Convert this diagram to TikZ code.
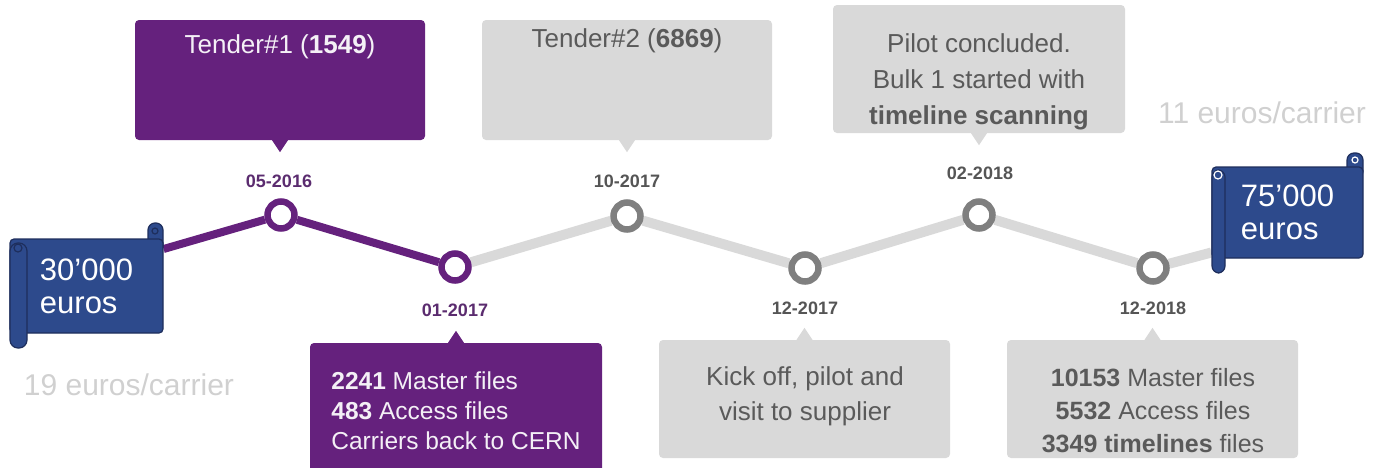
\documentclass[tikz,border=0pt]{standalone}
\usepackage{fontspec}
\setmainfont{Liberation Sans}
\usepackage{xcolor}
\usepackage{tikz}
\usetikzlibrary{positioning, backgrounds}

\definecolor{tlpurple}{HTML}{65217D}
\definecolor{datepurple}{HTML}{5B2C6F}
\definecolor{scrollblue}{HTML}{2D4A8C}
\definecolor{scrolledge}{HTML}{1E2E5C}
\definecolor{boxgray}{HTML}{D9D9D9}
\definecolor{boxtext}{HTML}{5A5A5A}
\definecolor{linegray}{HTML}{D9D9D9}
\definecolor{ringgray}{HTML}{7F7F7F}
\definecolor{dategray}{HTML}{555555}
\definecolor{pricegray}{HTML}{D0D0D0}
\definecolor{boxwhite}{HTML}{F4F0F6}

\begin{document}
\begin{tikzpicture}[x=1pt, y=-1pt,
  scrollbox/.style={draw=scrolledge, fill=scrollblue, line width=1.2pt, rounded corners=4pt,
    inner sep=0pt, text=white, align=left, font=\fontsize{31}{33}\selectfont},
  scrollroll/.style={draw=scrolledge, fill=scrollblue, line width=1.2pt},
  ring/.style={circle, line width=6.5pt, fill=white, minimum size=27pt, inner sep=0pt},
  datelabel/.style={font=\fontsize{18}{20}\selectfont\bfseries},
  callout/.style={rounded corners=4pt, inner sep=0pt},
  callouttext/.style={align=center, inner sep=0pt, font=\fontsize{26}{36}\selectfont},
  price/.style={text=pricegray, font=\fontsize{30}{32}\selectfont}
]
  \useasboundingbox (0,0) rectangle (1378,467);

  % left scroll
  \draw[scrollroll, rounded corners=7pt] (148,252) rectangle (163,223);
  \draw[scrolledge, line width=1.2pt] (155,231) circle (3);
  \node[scrollbox, minimum width=153pt, minimum height=94pt] (costold) at (86.5,286) {30'000\\euros};
  \draw[scrollroll, rounded corners=8pt] (10,243) rectangle (27,348);
  \draw[scrolledge, line width=1.2pt] (18,248) circle (4);
  \node[price] (priceold) at (129,385) {19 euros/carrier};

  % right scroll
  \draw[scrollroll, rounded corners=7pt] (1347,178) rectangle (1363,153);
  \draw[white, line width=1.2pt] (1355,160) circle (3);
  \node[scrollbox, minimum width=151pt, minimum height=91pt] (costnew) at (1287.5,212.5) {75'000\\euros};
  \draw[scrollroll, rounded corners=7pt] (1212,170) rectangle (1225,273);
  \draw[white, line width=1.2pt] (1218,175) circle (4);
  \node[price] (pricenew) at (1262,113) {11 euros/carrier};

  % timeline points
  \node[ring, draw=tlpurple] (may16) at (281,215) {};
  \node[ring, draw=tlpurple] (jan17) at (455,267) {};
  \node[ring, draw=ringgray] (oct17) at (627,216) {};
  \node[ring, draw=ringgray] (dec17) at (805,268) {};
  \node[ring, draw=ringgray] (feb18) at (979,215) {};
  \node[ring, draw=ringgray] (dec18) at (1153,268) {};

  \begin{scope}[on background layer]
    \draw[line width=8pt, tlpurple] ([yshift=37pt]costold.east) -- (may16) -- (jan17);
    \draw[line width=10pt, linegray] (jan17) -- (oct17) -- (dec17) -- (feb18) -- (dec18)
      -- ([yshift=-40pt]costnew.west);
  \end{scope}

  % dates
  \node[datelabel, text=datepurple] (may16date) at (279,181) {05-2016};
  \node[datelabel, text=datepurple] (jan17date) at (455,310) {01-2017};
  \node[datelabel, text=dategray] (oct17date) at (627,181) {10-2017};
  \node[datelabel, text=dategray] (dec17date) at (805,308) {12-2017};
  \node[datelabel, text=dategray] (feb18date) at (980,173) {02-2018};
  \node[datelabel, text=dategray] (dec18date) at (1153,308) {12-2018};

  % callouts above
  \node[callout, fill=tlpurple, minimum width=290pt, minimum height=120pt] (tender1) at (280,80) {};
  \fill[tlpurple] ([xshift=-8pt]tender1.south) -- ([yshift=-12pt]tender1.south)
    -- ([xshift=8pt]tender1.south) -- cycle;
  \node[callouttext, text=boxwhite] (tender1txt) at (280,47) {Tender\#1 (\textbf{1549})};

  \node[callout, fill=boxgray, minimum width=290pt, minimum height=120pt] (tender2) at (627,80) {};
  \fill[boxgray] ([xshift=-8pt]tender2.south) -- ([yshift=-12pt]tender2.south)
    -- ([xshift=8pt]tender2.south) -- cycle;
  \node[callouttext, text=boxtext] (tender2txt) at (627,41) {Tender\#2 (\textbf{6869})};

  \node[callout, fill=boxgray, minimum width=292pt, minimum height=128pt] (pilot) at (979,69) {};
  \fill[boxgray] ([xshift=-8pt]pilot.south) -- ([yshift=-12pt]pilot.south)
    -- ([xshift=8pt]pilot.south) -- cycle;
  \node[callouttext, text=boxtext] (pilottxt) at (979,82)
    {Pilot concluded.\\Bulk 1 started with\\\textbf{timeline scanning}};

  % callouts below
  \node[callout, fill=tlpurple, minimum width=292pt, minimum height=129pt] (files1) at (456,407.5) {};
  \fill[tlpurple] ([xshift=-8pt]files1.north) -- ([yshift=12pt]files1.north)
    -- ([xshift=8pt]files1.north) -- cycle;
  \node[callouttext, align=left, text=boxwhite, font=\fontsize{24.5}{30}\selectfont] (files1txt) at (456,411)
    {\textbf{2241} Master files\\\textbf{483} Access files\\Carriers back to CERN};

  \node[callout, fill=boxgray, minimum width=291pt, minimum height=118pt] (kickoff) at (804.5,399) {};
  \fill[boxgray] ([xshift=-8pt]kickoff.north) -- ([yshift=12pt]kickoff.north)
    -- ([xshift=8pt]kickoff.north) -- cycle;
  \node[callouttext, text=boxtext, font=\fontsize{26}{35}\selectfont] (kickofftxt) at (805,396)
    {Kick off, pilot and\\visit to supplier};

  \node[callout, fill=boxgray, minimum width=291pt, minimum height=118pt] (files2) at (1152.5,399) {};
  \fill[boxgray] ([xshift=-8pt]files2.north) -- ([yshift=12pt]files2.north)
    -- ([xshift=8pt]files2.north) -- cycle;
  \node[callouttext, text=boxtext, font=\fontsize{25}{33}\selectfont] (files2txt) at (1153,411)
    {\textbf{10153} Master files\\\textbf{5532} Access files\\\textbf{3349 timelines} files};
\end{tikzpicture}
\end{document}
